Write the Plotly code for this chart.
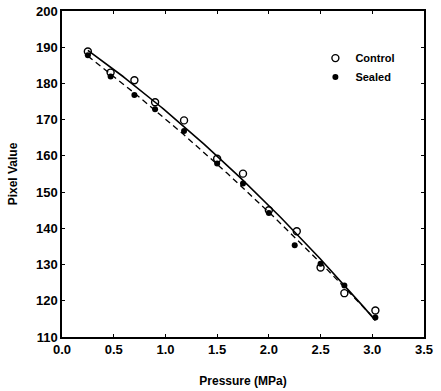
import numpy as np
import plotly.graph_objects as go

pressure_control = [0.25, 0.47, 0.70, 0.90, 1.18, 1.50, 1.75, 2.00, 2.27, 2.50, 2.73, 3.03]
pixel_control = [188.8, 183.0, 180.9, 174.8, 169.8, 159.2, 155.1, 145.0, 139.2, 129.2, 122.1, 117.3]
pressure_sealed = [0.25, 0.47, 0.70, 0.90, 1.18, 1.50, 1.75, 2.00, 2.25, 2.50, 2.73, 3.03]
pixel_sealed = [187.8, 181.9, 176.8, 172.9, 166.9, 157.9, 152.4, 144.2, 135.3, 130.2, 124.2, 115.4]

x_ticks = [0.0, 0.5, 1.0, 1.5, 2.0, 2.5, 3.0, 3.5]
y_ticks = [110, 120, 130, 140, 150, 160, 170, 180, 190, 200]

def fit(xs, ys):
    c = np.polyfit(xs, ys, 2)
    xx = np.linspace(min(xs), max(xs), 100)
    return xx, np.polyval(c, xx)

FONT = "Liberation Sans"
fig = go.Figure()
xc, yc = fit(pressure_control, pixel_control)
xs_, ys_ = fit(pressure_sealed, pixel_sealed)
fig.add_trace(go.Scatter(x=xc, y=yc, mode="lines", line=dict(color="black", width=1.6),
                         showlegend=False, hoverinfo="skip"))
fig.add_trace(go.Scatter(x=xs_, y=ys_, mode="lines", line=dict(color="black", width=1.3, dash="6px,4px"),
                         showlegend=False, hoverinfo="skip"))
fig.add_trace(go.Scatter(x=pressure_control, y=pixel_control, mode="markers", name="Control",
                         marker=dict(symbol="circle-open", size=7, color="black", line=dict(width=1.4))))
fig.add_trace(go.Scatter(x=pressure_sealed, y=pixel_sealed, mode="markers", name="Sealed",
                         marker=dict(symbol="circle", size=6, color="black")))

axis_common = dict(showline=True, linecolor="black", linewidth=1.5, mirror="ticks",
                   ticks="inside", ticklen=3, tickcolor="black", showgrid=False, zeroline=False,
                   automargin=False,
                   tickfont=dict(family=FONT, size=13, color="black", weight="bold"))
fig.update_xaxes(range=[0, 3.5], tickvals=x_ticks, ticktext=[f"{v:.1f}" for v in x_ticks],
                 title=dict(text="Pressure (MPa)", font=dict(family=FONT, size=12, color="black", weight="bold"),
                            standoff=20), **axis_common)
fig.update_yaxes(range=[110, 200], tickvals=y_ticks, ticktext=[str(v) for v in y_ticks],
                 title=dict(text="Pixel Value", font=dict(family=FONT, size=12, color="black", weight="bold"),
                            standoff=16), **axis_common)
fig.update_layout(width=441, height=391, margin=dict(l=62, r=17, t=11, b=54),
                  plot_bgcolor="white", paper_bgcolor="white",
                  legend=dict(x=0.70, y=0.90, xanchor="left", yanchor="top", bgcolor="rgba(0,0,0,0)",
                              font=dict(family=FONT, size=11, color="black", weight="bold"),
                              itemwidth=30, tracegroupgap=2))
fig.write_html("out.html", config={"displayModeBar": False})
with open("out.html", encoding="utf-8") as f:
    html = f.read()
html = html.replace("<body>", '<body style="margin:0;padding:0;">', 1)
with open("out.html", "w", encoding="utf-8") as f:
    f.write(html)
